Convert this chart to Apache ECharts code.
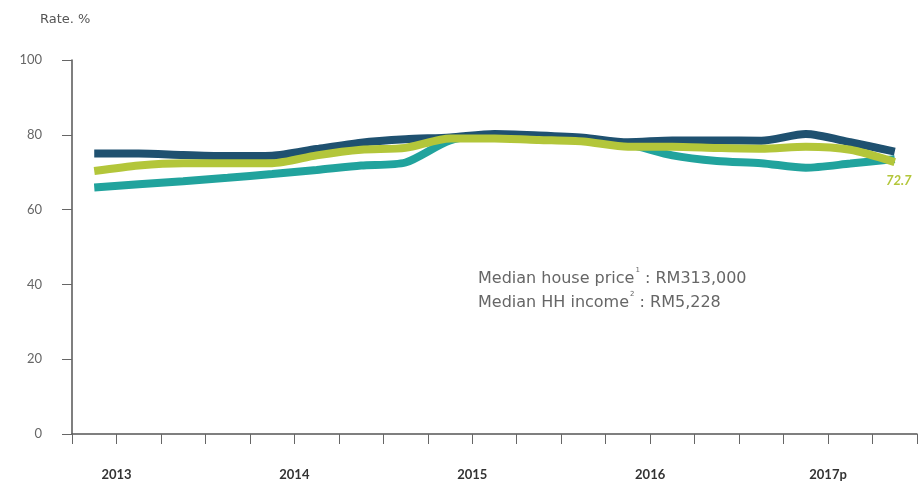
<!DOCTYPE html>
<html>
<head>
<meta charset="utf-8">
<script src="https://cdn.jsdelivr.net/npm/echarts@6/dist/echarts.min.js"></script>
<style>html,body{margin:0;padding:0;background:#fff;}#c{width:920px;height:487px;}</style>
</head>
<body>
<div id="c"></div>
<script>
// Quarterly positions (category centres on a value axis, 0.5 .. 18.5)
var quarters = [0.5,1.5,2.5,3.5,4.5,5.5,6.5,7.5,8.5,9.5,10.5,11.5,12.5,13.5,14.5,15.5,16.5,17.5,18.5];
var yearTicks = {1:'2013', 5:'2014', 9:'2015', 13:'2016', 17:'2017p'};
var darkSeries   = [75.0,75.0,74.6,74.3,74.4,76.2,77.9,78.8,79.3,80.2,79.8,79.2,78.0,78.5,78.5,78.4,80.2,78.0,75.5];
var tealSeries   = [65.9,66.8,67.6,68.5,69.5,70.6,71.8,72.6,78.5,80.0,79.5,78.8,77.5,74.5,73.0,72.4,71.2,72.3,73.5];
var yellowSeries = [70.3,71.8,72.4,72.4,72.4,74.5,76.0,76.5,79.0,79.0,78.6,78.2,76.8,76.8,76.5,76.3,76.8,76.0,72.7];
var yTicks = [0,20,40,60,80,100];
var endLabel = '72.7';

function pairs(vals){ return vals.map(function(v,i){ return [quarters[i], v]; }); }

var chart = echarts.init(document.getElementById('c'), null, {renderer:'canvas'});
var lineW = 8;
chart.setOption({
  animation:false,
  backgroundColor:'#fff',
  grid:{left:72, top:60, width:853, bottom:53},
  xAxis:{
    type:'value', min:0, max:19, interval:1,
    axisLine:{show:true, lineStyle:{color:'#555', width:1.5}},
    axisTick:{show:true, length:10, lineStyle:{color:'#666', width:1}},
    splitLine:{show:false},
    axisLabel:{margin:34, color:'#333', fontFamily:'Lato', fontWeight:'bold', fontSize:13,
      formatter:function(v){ return yearTicks[v] || ''; }}
  },
  yAxis:{
    type:'value', min:yTicks[0], max:yTicks[yTicks.length-1], interval:20,
    axisLine:{show:true, lineStyle:{color:'#555', width:1.5}},
    axisTick:{show:true, length:10, lineStyle:{color:'#666', width:1}},
    splitLine:{show:false},
    axisLabel:{margin:30, color:'#666', fontFamily:'Lato', fontSize:13}
  },
  series:[
    {type:'line', data:pairs(tealSeries), showSymbol:false, smooth:0.25,
      lineStyle:{color:'#21a39d', width:lineW}, z:2},
    {type:'line', data:pairs(darkSeries), showSymbol:false, smooth:0.25,
      lineStyle:{color:'#1f5170', width:lineW}, z:3},
    {type:'line', data:pairs(yellowSeries), showSymbol:false, smooth:0.25,
      lineStyle:{color:'#b3c63a', width:lineW}, z:4,
      markPoint:{symbol:'circle', symbolSize:0,
        data:[{coord:[quarters[quarters.length-1], yellowSeries[yellowSeries.length-1]], value:endLabel}],
        label:{show:true, formatter:endLabel, color:'#b3c63a', fontStyle:'italic', fontWeight:'bold', fontFamily:'Lato', fontSize:13, offset:[4,19]}}}
  ],
  graphic:[
    {type:'text', left:40, top:13, style:{text:'Rate. %', fill:'#555', font:'13px "DejaVu Sans"'}},
    {type:'text', left:478, top:267, style:{
      rich:{
        t:{fill:'#666', fontSize:16, fontFamily:'DejaVu Sans', lineHeight:24},
        s:{fill:'#666', fontSize:7, fontFamily:'DejaVu Sans', verticalAlign:'top', lineHeight:24, padding:[0,0,9,1]}
      },
      text:'{t|Median house price}{s|1}{t| : RM313,000}\n{t|Median HH income}{s|2}{t| : RM5,228}'
    }}
  ]
});
</script>
</body>
</html>
